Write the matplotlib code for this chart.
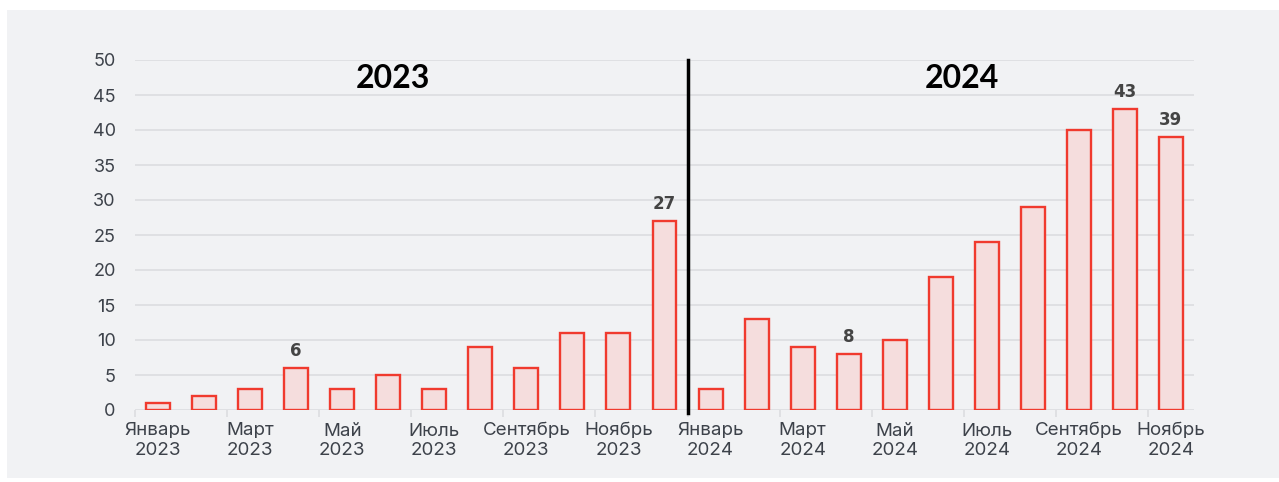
import numpy as np
import matplotlib.pyplot as plt
from matplotlib.patches import Rectangle

# данные по месяцам
months = ['Январь', 'Февраль', 'Март', 'Апрель', 'Май', 'Июнь', 'Июль', 'Август',
          'Сентябрь', 'Октябрь', 'Ноябрь', 'Декабрь']
values_2023 = [1, 2, 3, 6, 3, 5, 3, 9, 6, 11, 11, 27]
values_2024 = [3, 13, 9, 8, 10, 19, 24, 29, 40, 43, 39]
labeled = {3: 6, 11: 27, 15: 8, 21: 43, 22: 39}

values = values_2023 + values_2024
labels = [f'{m}\n2023' for m in months] + [f'{m}\n2024' for m in months[:11]]
x = np.arange(len(values))

plt.rcParams['font.family'] = ['Inter', 'DejaVu Sans']

fig = plt.figure(figsize=(12.79, 4.82), dpi=100, facecolor='white')
fig.patches.append(Rectangle((7 / 1279, 4 / 482), 1 - 7 / 1279, 1 - 14 / 482,
                             transform=fig.transFigure, facecolor='#f1f2f4',
                             edgecolor='none', zorder=-10))
ax = fig.add_axes([135 / 1279, 1 - 410 / 482, (1194 - 135) / 1279, 350 / 482])
ax.set_facecolor('none')

ax.bar(x, values, width=0.52, color='#f5dddd', edgecolor='#f03a2e', linewidth=1.7, zorder=3)

for i, v in labeled.items():
    ax.text(i, v + 1.1, str(v), ha='center', va='bottom', fontsize=12,
            fontweight='bold', color='#444444', family='DejaVu Sans')

ax.set_xlim(-0.5, len(values) - 0.5)
ax.set_ylim(0, 50)
ax.set_yticks(range(0, 51, 5))
ax.yaxis.grid(True, color='#dcdde0', linewidth=1.2, zorder=0)
ax.tick_params(axis='y', length=0, pad=14, labelsize=13, labelcolor='#3d424a')

ax.set_xticks(x[::2])
ax.set_xticklabels(labels[::2], fontsize=13.5, color='#3d424a', linespacing=1.2)
ax.set_xticks(x[::2] - 0.5, minor=True)
ax.tick_params(axis='x', which='major', length=0, pad=9)
ax.tick_params(axis='x', which='minor', length=5, color='#dcdde0', width=1.2)

for s in ax.spines.values():
    s.set_visible(False)

# разделитель годов
ax.plot([11.5, 11.5], [-0.4, 50], color='black', linewidth=2.5, clip_on=False, zorder=4)
ax.text(5.1, 47.3, '2023', ha='center', va='center', fontsize=23, fontweight='bold',
        family='Lato', color='black')
ax.text(17.45, 47.3, '2024', ha='center', va='center', fontsize=23, fontweight='bold',
        family='Lato', color='black')

fig.savefig('out.png', dpi=100)
